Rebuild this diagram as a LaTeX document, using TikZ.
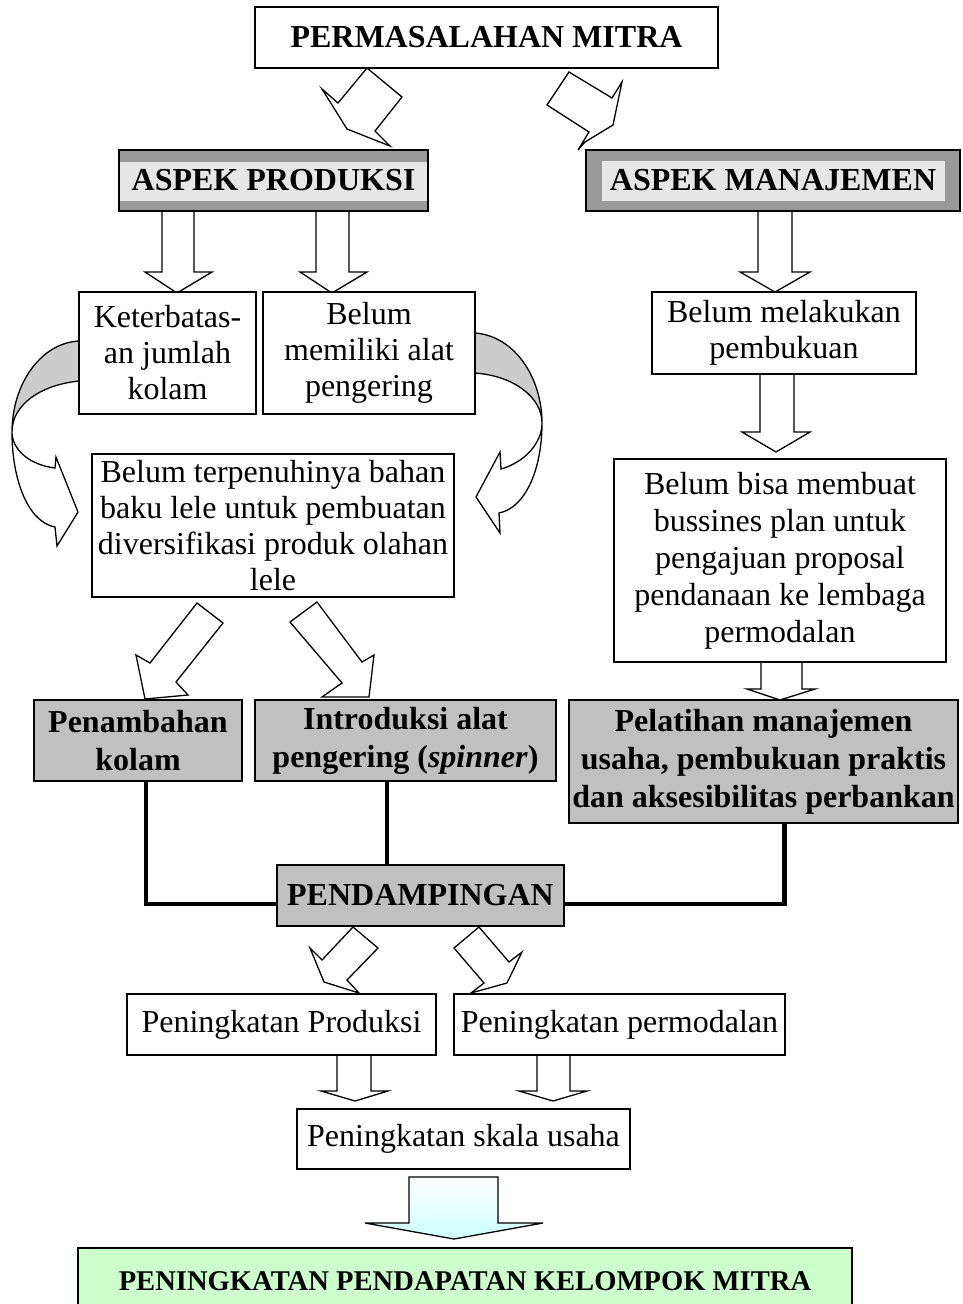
\documentclass[tikz,border=0pt]{standalone}
\usepackage{fontspec}
\setmainfont{Liberation Serif}
\definecolor{boxgray}{HTML}{C0C0C0}
\definecolor{aspdark}{HTML}{999999}
\definecolor{asplight}{HTML}{E6E6E6}
\definecolor{curvegray}{HTML}{CCCCCC}
\definecolor{fingreen}{HTML}{CCFFCC}
\definecolor{arrcyan}{HTML}{CCFFFF}
\begin{document}
\begin{tikzpicture}[x=1pt,y=-1pt,
  box/.style={draw, line width=1.5pt, fill=white, inner sep=0pt, align=center,
              font=\fontsize{32}{36}\selectfont},
  gbox/.style={box, fill=boxgray, font=\bfseries\fontsize{32}{38}\selectfont},
  barrow/.style={draw, line width=1.3pt, fill=white, line join=miter},
  conn/.style={line width=4.5pt}]
\useasboundingbox (0,0) rectangle (962,1304);

% ---- block arrows ----
% from PERMASALAHAN MITRA
\draw[barrow] (367,68) -- (402,97) -- (375,131) -- (390,146) -- (347,129) -- (322,89) -- (338,103) -- cycle;
\draw[barrow] (569,72) -- (612,98) -- (622,82) -- (613,125) -- (585,142) -- (578,150) -- (589,132) -- (547,105) -- cycle;
% vertical arrows
\draw[barrow] (162,211) -- (162,272) -- (145,272) -- (177,293) -- (212,272) -- (194,272) -- (194,211);
\draw[barrow] (316,211) -- (316,272) -- (300,272) -- (332,293) -- (367,272) -- (349,272) -- (349,211);
\draw[barrow] (758,211) -- (758,272) -- (740,272) -- (775,292) -- (810,272) -- (792,272) -- (792,211);
\draw[barrow] (760,374) -- (760,432) -- (742,432) -- (776,452) -- (810,432) -- (794,432) -- (794,374);
\draw[barrow] (761,662) -- (761,689) -- (747,689) -- (780,700) -- (815,689) -- (802,689) -- (802,662);
% curved arrows
\fill[curvegray] (79,341) .. controls (40,343) and (12,385) .. (12,432) .. controls (12,405) and (40,385) .. (79,381) -- cycle;
\draw[line width=1.3pt, line join=miter] (79,341) .. controls (40,343) and (12,385) .. (12,432) .. controls (12,450) and (30,465) .. (55,468) -- (56,457) -- (78,512) -- (57,546) -- (55,527) .. controls (28,522) and (12,480) .. (12,432) .. controls (12,405) and (40,385) .. (79,381);
\fill[curvegray] (475,333) .. controls (515,336) and (542,378) .. (542,423) .. controls (542,398) and (515,376) .. (475,373) -- cycle;
\draw[line width=1.3pt, line join=miter] (475,333) .. controls (515,336) and (542,378) .. (542,423) .. controls (542,443) and (525,462) .. (501,469) -- (500,452) -- (476,497) -- (500,533) -- (499,513) .. controls (525,508) and (542,470) .. (542,423) .. controls (542,398) and (515,376) .. (475,373);
% diagonal arrows from Belum terpenuhinya
\draw[barrow] (197,603) -- (223,623) -- (176,682) -- (188,695) -- (145,699) -- (136,655) -- (150,663) -- cycle;
\draw[barrow] (317,602) -- (362,662) -- (374,655) -- (369,697) -- (322,697) -- (342,683) -- (290,622) -- cycle;
% from PENDAMPINGAN
\draw[barrow] (353,927) -- (378,948) -- (347,980) -- (359,993) -- (324,982) -- (310,948) -- (322,960) -- cycle;
\draw[barrow] (479,927) -- (509,962) -- (522,952) -- (507,983) -- (471,993) -- (484,983) -- (454,948) -- cycle;
% to Peningkatan skala usaha
\draw[barrow] (337,1055) -- (337,1091) -- (321,1091) -- (355,1101) -- (388,1091) -- (371,1091) -- (371,1055);
\draw[barrow] (537,1055) -- (537,1091) -- (519,1091) -- (553,1101) -- (587,1091) -- (570,1091) -- (570,1055);
% big gradient arrow
\shade[top color=white, bottom color=arrcyan] (409,1177) -- (409,1223) -- (365,1223) -- (454,1239) -- (543,1223) -- (498,1223) -- (498,1177) -- cycle;
\draw[line width=1.3pt, line join=miter] (409,1177) -- (409,1223) -- (365,1223) -- (454,1239) -- (543,1223) -- (498,1223) -- (498,1177) -- cycle;

% ---- boxes ----
\node[box, font=\bfseries\fontsize{32}{36}\selectfont, minimum width=463pt, minimum height=61pt] (pm) at (486.5,37.5) {PERMASALAHAN MITRA};

\fill[aspdark] (119,150) rectangle (428,211);
\fill[asplight] (120,162) rectangle (427,201);
\node[box, fill=none, font=\bfseries\fontsize{32}{36}\selectfont, minimum width=309pt, minimum height=61pt] (ap) at (273.5,180.5) {ASPEK PRODUKSI};

\fill[aspdark] (586,150) rectangle (960,211);
\fill[asplight] (602,161) rectangle (945,201);
\node[box, fill=none, font=\bfseries\fontsize{32}{36}\selectfont, minimum width=374pt, minimum height=61pt] (am) at (773,180.5) {ASPEK MANAJEMEN};

\node[box, minimum width=177pt, minimum height=122pt] (kb) at (167.5,353) {Keterbatas-\\an jumlah\\kolam};
\node[box, minimum width=212pt, minimum height=122pt] (bm) at (369,353) {Belum\\memiliki alat\\pengering};
\node[box, minimum width=264pt, minimum height=82pt] (bp) at (784,333) {Belum melakukan\\pembukuan};
\node[box, minimum width=362pt, minimum height=143pt] (bt) at (273,525.5) {Belum terpenuhinya bahan\\baku lele untuk pembuatan\\diversifikasi produk olahan\\lele};
\node[box, minimum width=332pt, minimum height=203pt, font=\fontsize{32}{37}\selectfont] (bb) at (780,560.5) {Belum bisa membuat\\bussines plan untuk\\pengajuan proposal\\pendanaan ke lembaga\\permodalan};

\node[gbox, minimum width=208pt, minimum height=81pt] (pk) at (138,740.5) {Penambahan\\kolam};
\node[gbox, minimum width=301pt, minimum height=81pt] (ia) at (405.5,740.5) {Introduksi alat\\pengering (\textit{spinner})};
\node[gbox, minimum width=389pt, minimum height=123pt] (pl) at (763.5,761.5) {Pelatihan manajemen\\usaha, pembukuan praktis\\dan aksesibilitas perbankan};

% ---- thick connectors ----
\draw[conn] ([xshift=8pt]pk.south) |- (277,904);
\draw[conn] ([xshift=-18.5pt]ia.south) -- (387,865);
\draw[conn] ([xshift=21pt]pl.south) |- (564,904);

\node[gbox, minimum width=287pt, minimum height=61pt] (pd) at (420.5,895.5) {PENDAMPINGAN};

\node[box, minimum width=309pt, minimum height=61pt] (pp) at (281.5,1024.5) {Peningkatan Produksi};
\node[box, minimum width=331pt, minimum height=61pt] (pr) at (619.5,1024.5) {Peningkatan permodalan};
\node[box, minimum width=333pt, minimum height=60pt] (sk) at (463.5,1139) {Peningkatan skala usaha};

\node[box, fill=fingreen, font=\bfseries\fontsize{28.6}{32}\selectfont, minimum width=774pt, minimum height=66pt] (fin) at (465,1281) {PENINGKATAN PENDAPATAN KELOMPOK MITRA};
\end{tikzpicture}
\end{document}
